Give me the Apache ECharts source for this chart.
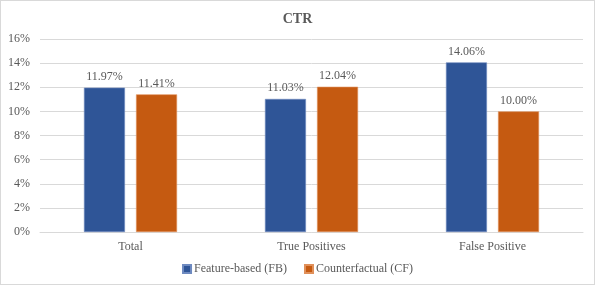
<!DOCTYPE html>
<html><head><meta charset="utf-8">
<script src="https://cdn.jsdelivr.net/npm/echarts@6/dist/echarts.min.js"></script>
<style>html,body{margin:0;padding:0;background:#fff}#c{width:595px;height:285px;box-sizing:border-box;border:1px solid #d9d9d9}</style>
</head><body><div id="c"></div>
<script>
const categories = ["Total", "True Positives", "False Positive"];
const seriesNames = ["Feature-based (FB)", "Counterfactual (CF)"];
const fbValues = [11.97, 11.03, 14.06];
const cfValues = [11.41, 12.04, 10.00];
const yTicks = [0, 2, 4, 6, 8, 10, 12, 14, 16];

const font = "'Liberation Serif', 'Times New Roman', serif";
const chart = echarts.init(document.getElementById('c'), null, {renderer: 'canvas'});
chart.setOption({
  animation: false,
  title: {text: 'CTR', left: 'center', top: 6, textStyle: {fontFamily: font, fontSize: 14, fontWeight: 'bold', color: '#595959'}},
  grid: {left: 39, right: 11, top: 38, bottom: 52},
  legend: {bottom: 4, left: 'center', itemWidth: 8, itemHeight: 8, itemGap: 17, icon: 'rect',
    textStyle: {fontFamily: font, fontSize: 12, color: '#595959', padding: [0, 0, 0, -2]}, data: seriesNames},
  xAxis: {type: 'category', data: categories,
    axisLine: {lineStyle: {color: '#d9d9d9'}}, axisTick: {show: false},
    axisLabel: {fontFamily: font, fontSize: 12, color: '#595959', margin: 9}},
  yAxis: {type: 'value', min: yTicks[0], max: yTicks[yTicks.length - 1], interval: 2,
    axisLine: {show: false}, axisTick: {show: false},
    splitLine: {lineStyle: {color: '#d9d9d9'}},
    axisLabel: {fontFamily: font, fontSize: 12, color: '#595959', margin: 10, formatter: v => v + '%'}},
  series: [
    {name: seriesNames[0], type: 'bar', data: fbValues, barWidth: 41, barGap: '27%',
      itemStyle: {color: '#2F5597', borderColor: '#6e8ac0', borderWidth: 0.6},
      label: {show: true, position: 'top', distance: 5, fontFamily: font, fontSize: 12, color: '#595959', formatter: p => p.value.toFixed(2) + '%'}},
    {name: seriesNames[1], type: 'bar', data: cfValues, barWidth: 41,
      itemStyle: {color: '#C55A11', borderColor: '#e0905a', borderWidth: 0.6},
      label: {show: true, position: 'top', distance: 5, fontFamily: font, fontSize: 12, color: '#595959', formatter: p => p.value.toFixed(2) + '%'}}
  ]
});
</script></body></html>
